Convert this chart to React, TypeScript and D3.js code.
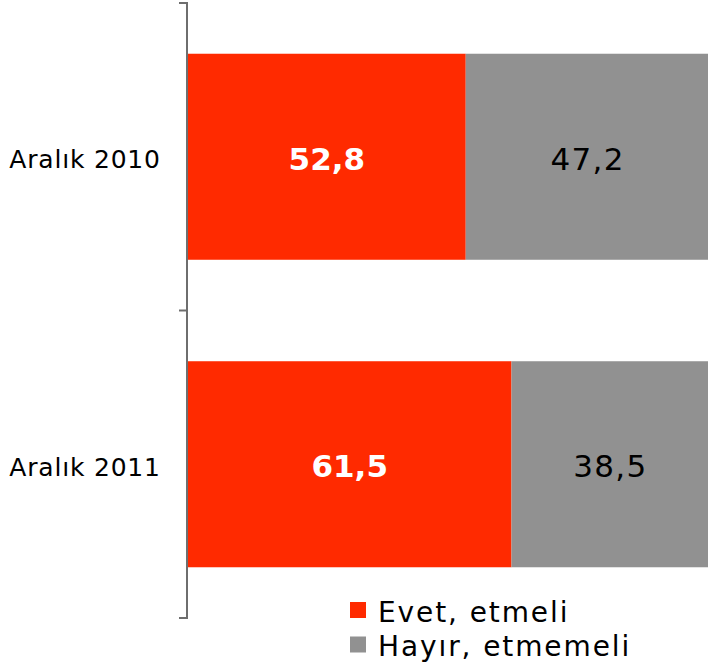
import React from "react";
import * as d3 from "d3";

const categories = ["Aralık 2010", "Aralık 2011"];
const evet = [52.8, 61.5];
const hayir = [47.2, 38.5];
const seriesNames = ["Evet, etmeli", "Hayır, etmemeli"];
const colors = ["#FF2A00", "#919191"];

const W = 708;
const H = 671;

export default function App() {
  const y = d3.scaleBand<string>().domain(categories).range([3, 618]).paddingInner(0.33).paddingOuter(0.165);
  const x = d3.scaleLinear().domain([0, 100]).range([188, 714]);
  const fmt = (v: number) => v.toFixed(1).replace(".", ",");
  const tickYs = [3, 3 + (618 - 3) / 2, 618];
  return (
    <div style={{ position: "absolute", left: 0, top: 0 }}>
      <svg width={W} height={H} style={{ display: "block", fontFamily: "DejaVu Sans, Verdana, sans-serif" }}>
        {categories.map((c, i) => {
          const y0 = y(c)!;
          const bh = y.bandwidth();
          const cy = y0 + bh / 2;
          const x0 = x(0), x1 = x(evet[i]), x2 = x(evet[i] + hayir[i]);
          return (
            <g key={c}>
              <rect x={x0} y={y0} width={x1 - x0} height={bh} fill={colors[0]} />
              <rect x={x1} y={y0} width={x2 - x1} height={bh} fill={colors[1]} />
              <text x={(x0 + x1) / 2} y={cy + 12.8} textAnchor="middle" fontSize={31} fontWeight="bold" fill="#fff">{fmt(evet[i])}</text>
              <text x={(x1 + Math.min(x2, W)) / 2 + 0.7} y={cy + 12.8} textAnchor="middle" fontSize={31} letterSpacing={1.3} fill="#000">{fmt(hayir[i])}</text>
              <text x={160.8} y={cy + 11.5} textAnchor="end" fontSize={25} letterSpacing={0.8} fill="#000">{c}</text>
            </g>
          );
        })}
        <line x1={187} x2={187} y1={3} y2={619} stroke="#6e6e6e" strokeWidth={2} />
        {tickYs.map((t, i) => (
          <line key={i} x1={179} x2={188} y1={t} y2={t} stroke="#6e6e6e" strokeWidth={2} />
        ))}
        {seriesNames.map((s, i) => (
          <g key={s} transform={`translate(350, ${602 + i * 34.5})`}>
            <rect x={0} y={0} width={16} height={16} fill={colors[i]} />
            <text x={28} y={19.7} fontSize={28} letterSpacing={1.9} fill="#000">{s}</text>
          </g>
        ))}
      </svg>
    </div>
  );
}
